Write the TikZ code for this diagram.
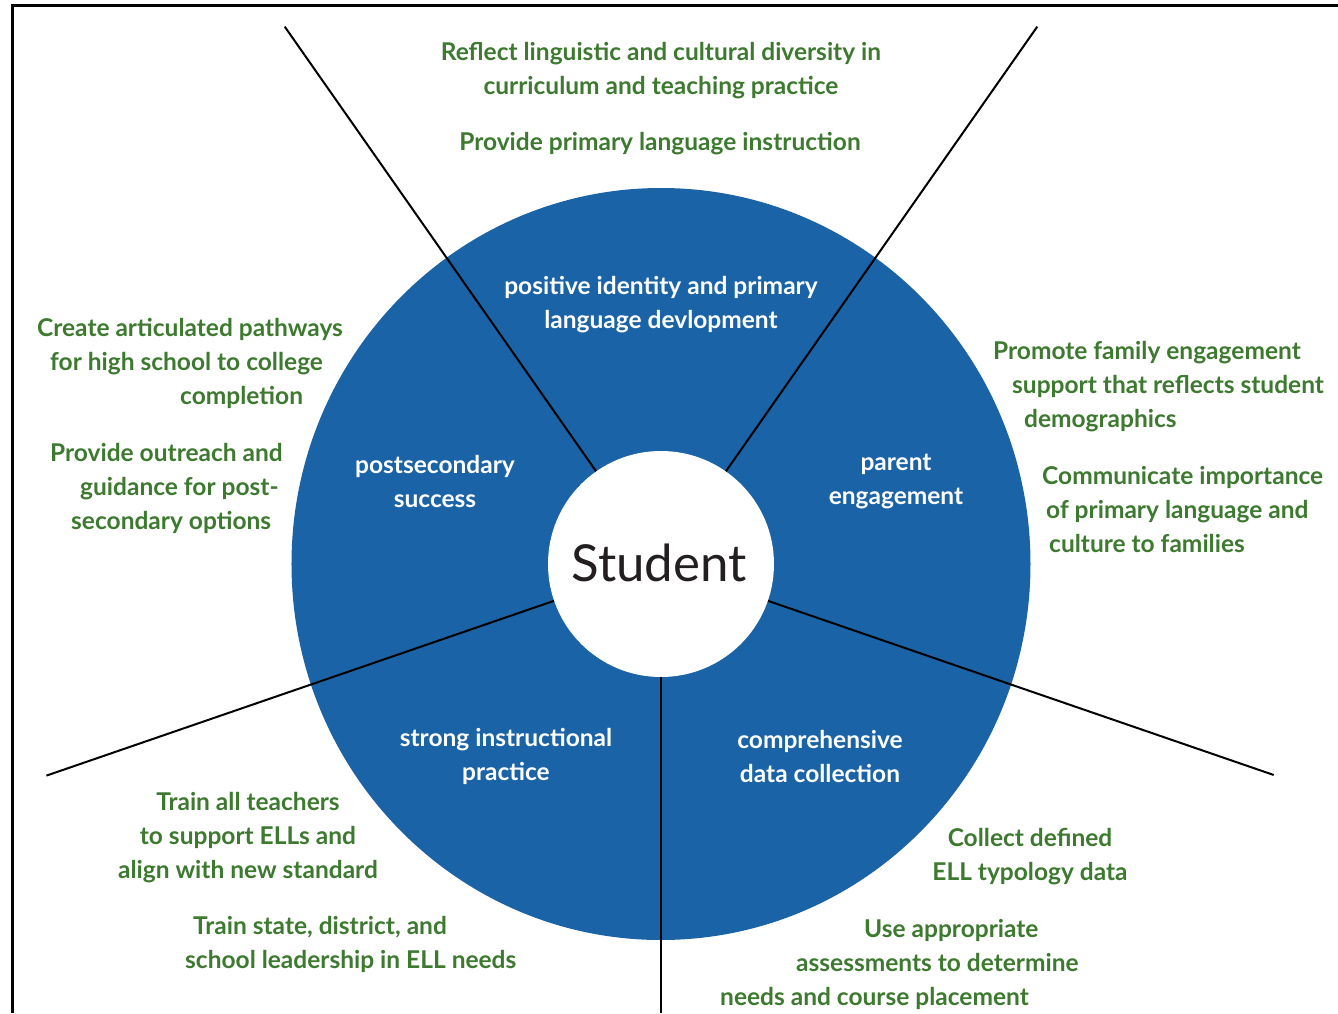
\documentclass[tikz,border=0pt]{standalone}
\usepackage{fontspec}
\setmainfont{Lato}
\usepackage{tikz}
\usetikzlibrary{shapes.geometric}
\definecolor{wheelblue}{RGB}{26,99,166}
\definecolor{tipgreen}{RGB}{61,122,48}
\tikzset{
  tip/.style={draw=none,text=tipgreen,font=\fontsize{24.5}{34}\selectfont\bfseries,inner sep=0pt},
  sector/.style={draw=none,text=white,font=\fontsize{24.5}{34}\selectfont\bfseries,inner sep=0pt,align=center},
  spoke/.style={line width=2pt,black}
}
\begin{document}
\begin{tikzpicture}[x=1pt,y=1pt]
    \useasboundingbox (-661,-449) rectangle (677,564);
    \draw[line width=3pt] (-648,-449) -- (-648,558) -- (677,558);

    \node[ellipse,fill=wheelblue,minimum width=739pt,minimum height=752pt,inner sep=0pt](wheel)at(0,0){};
    \node[circle,fill=white,minimum size=226pt,inner sep=0pt](student)at(0,0){};

    \coordinate(tl)at(125:656);
    \coordinate(tr)at(55:656);
    \coordinate(bl)at(199:650);
    \coordinate(br)at(341:648);
    \coordinate(bm)at(0,-449);
    \draw[spoke] (student.125) to (tl);
    \draw[spoke] (student.55) to (tr);
    \draw[spoke] (student.199) to (bl);
    \draw[spoke] (student.341) to (br);
    \draw[spoke] (student.270) to (bm);

    \node[draw=none,text={rgb,255:red,35;green,31;blue,32},font=\fontsize{51}{60}\selectfont](name)at(-2,1){Student};

    \node[sector](identity)at(0,259){positive identity and primary\\language devlopment};
    \node[sector](postsec)at(-226,83){postsecondary\\success};
    \node[sector](parent)at(235,83){parent\\engagement};
    \node[sector](instruct)at(-155,-192){strong instructional\\practice};
    \node[sector](data)at(159,-192){comprehensive\\data collection};

    \node[tip,align=center](reflect)at(0,493){Reflect linguistic and cultural diversity in\\curriculum and teaching practice};
    \node[tip,align=center](primary)at(-1,420){Provide primary language instruction};
    \node[tip,align=left,anchor=west](pathways)at(-624,201){Create articulated pathways\\\hspace*{13pt}for high school to college\\\hspace*{143pt}completion};
    \node[tip,align=left,anchor=west](outreach)at(-611,76){Provide outreach and\\\hspace*{30pt}guidance for post-\\\hspace*{21pt}secondary options};
    \node[tip,align=left,anchor=west](family)at(332,177){Promote family engagement\\\hspace*{19pt}support that reflects student\\\hspace*{31pt}demographics};
    \node[tip,align=left,anchor=west](culture)at(381,54){Communicate importance\\\hspace*{4pt}of primary language and\\\hspace*{7pt}culture to families};
    \node[tip,align=center](teachers)at(-413,-274){Train all teachers\\to support ELLs and\\align with new standard};
    \node[tip,align=left,anchor=west](leaders)at(-476,-380){\hspace*{8pt}Train state, district, and\\school leadership in ELL needs};
    \node[tip,align=center](typology)at(369,-293){Collect defined\\ELL typology data};
    \node[tip,align=left,anchor=west](assess)at(59,-400){\hspace*{144pt}Use appropriate\\\hspace*{76pt}assessments to determine\\needs and course placement};
  \end{tikzpicture}
\end{document}
